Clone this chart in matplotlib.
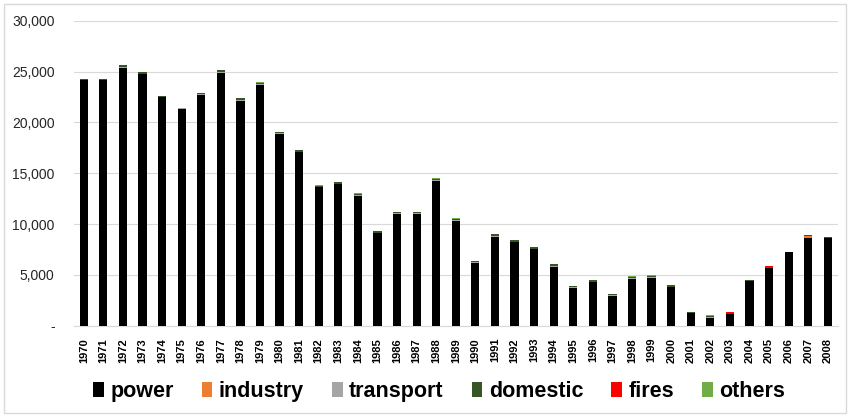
import numpy as np
import matplotlib
matplotlib.use('Agg')
import matplotlib.pyplot as plt
from matplotlib.ticker import FuncFormatter
from matplotlib.patches import Rectangle

plt.rcParams['font.family'] = ['Liberation Sans', 'DejaVu Sans']

years = [str(y) for y in range(1970, 2009)]

power = [24200, 24200, 25400, 24750, 22500, 21350, 22700, 24900, 22150, 23700,
         18850, 17050, 13600, 13900, 12800, 9100, 11000, 11000, 14250, 10300,
         6150, 8750, 8200, 7500, 5800, 3700, 4250, 2900, 4600, 4700,
         3750, 1200, 750, 1150, 4400, 5650, 7200, 8650, 8600]
industry = [0] * 37 + [130, 0]
transport = [30, 30, 70, 60, 30, 30, 70, 80, 70, 70,
             70, 70, 60, 70, 60, 60, 60, 60, 70, 70,
             70, 70, 70, 60, 70, 70, 70, 70, 70, 70,
             70, 40, 80, 10, 30, 10, 30, 60, 30]
domestic = [60, 60, 150, 120, 60, 60, 150, 160, 150, 150,
            150, 150, 130, 140, 140, 140, 140, 140, 150, 150,
            150, 150, 150, 140, 140, 140, 150, 150, 150, 150,
            150, 80, 150, 20, 60, 20, 50, 60, 60]
fires = [0] * 33 + [140, 0, 150, 0, 30, 0]
others = [10, 10, 30, 20, 10, 10, 30, 30, 30, 30,
          30, 30, 30, 30, 30, 30, 30, 30, 40, 40,
          30, 40, 40, 30, 30, 30, 30, 30, 30, 30,
          30, 10, 30, 0, 10, 0, 10, 20, 10]

series = [('power', power, '#000000'),
          ('industry', industry, '#ed7d31'),
          ('transport', transport, '#a5a5a5'),
          ('domestic', domestic, '#375623'),
          ('fires', fires, '#ff0000'),
          ('others', others, '#70ad47')]

fig = plt.figure(figsize=(8.5, 4.17), dpi=100)
ax = fig.add_axes([74 / 850, 1 - 325.5 / 417, (837.6 - 74) / 850, (325.5 - 21) / 417])

x = np.arange(len(years))
bottom = np.zeros(len(years))
for name, vals, col in series:
    vals = np.array(vals, dtype=float)
    ax.bar(x, vals, bottom=bottom, width=0.42, color=col, label=name, zorder=3)
    bottom += vals

ax.set_xlim(-0.5, len(years) - 0.5)
ax.set_ylim(0, 30000)
ax.set_yticks(range(0, 30001, 5000))
ax.yaxis.set_major_formatter(FuncFormatter(lambda v, p: '-' if v == 0 else f'{int(v):,}'))
ax.set_xticks(x)
ax.set_xticklabels(years, rotation=90, fontsize=8, fontweight='bold')
ax.tick_params(axis='y', labelsize=10, length=0, pad=14, colors='#262626')
ax.tick_params(axis='x', length=0, pad=9)
ax.grid(axis='y', color='#d9d9d9', linewidth=0.8, zorder=0)
for s in ['top', 'right', 'left']:
    ax.spines[s].set_visible(False)
ax.spines['bottom'].set_color('#d9d9d9')

leg = fig.legend(loc='center left', bbox_to_anchor=(93 / 850, 1 - 391.5 / 417), ncol=6,
                 frameon=False, prop={'size': 15.5, 'weight': 'bold'},
                 borderpad=0, borderaxespad=0,
                 handlelength=0.5, handleheight=0.65, handletextpad=0.3, columnspacing=1.3)

fig.patches.append(Rectangle((4 / 850, 4 / 417), 842 / 850, 409 / 417, transform=fig.transFigure,
                             fill=False, edgecolor='#d9d9d9', linewidth=1))

plt.savefig('out.png', dpi=100)
